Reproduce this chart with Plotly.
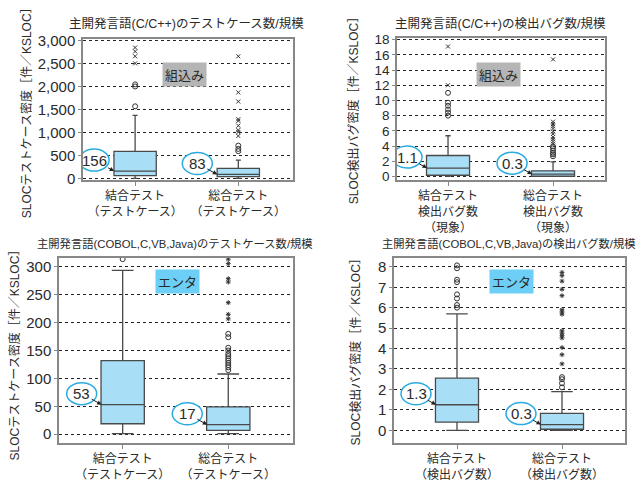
import plotly.graph_objects as go

W, H = 638, 483

# ---------------- data ----------------
cats_tc = ["結合テスト<br>（テストケース）", "総合テスト<br>（テストケース）"]
cats_bug_emb = ["結合テスト<br>検出バグ数<br>（現象）", "総合テスト<br>検出バグ数<br>（現象）"]
cats_bug_ent = ["結合テスト<br>（検出バグ数）", "総合テスト<br>（検出バグ数）"]

titles = ["主開発言語(C/C++)のテストケース数/規模",
          "主開発言語(C/C++)の検出バグ数/規模",
          "主開発言語(COBOL,C,VB,Java)のテストケース数/規模",
          "主開発言語(COBOL,C,VB,Java)の検出バグ数/規模"]
ytitles = ["SLOCテストケース密度［件／KSLOC］", "SLOC検出バグ密度［件／KSLOC］",
           "SLOCテストケース密度［件／KSLOC］", "SLOC検出バグ密度［件／KSLOC］"]
tags = ["組込み", "組込み", "エンタ", "エンタ"]

# panel 1: embedded, test cases
p1_q1 = [56, 35]
p1_med = [156, 83]
p1_q3 = [584, 217]
p1_lo = [0, 0]
p1_hi = [1371, 394]
p1_circ = [[1568, 2000, 2046], [590, 640, 711]]
p1_ext = [[2504, 2658, 2764, 2848], [922, 1006, 1050, 1146, 1250, 1287, 1673, 1871, 2658]]
p1_lab = ["156", "83"]

# panel 2: embedded, bugs
p2_q1 = [0.15, 0.02]
p2_med = [1.1, 0.3]
p2_q3 = [2.75, 0.73]
p2_lo = [0, 0]
p2_hi = [5.35, 1.92]
p2_circ = [[8.0, 8.4, 8.8, 9.3, 9.7, 11.0], [2.65, 2.9, 3.1, 3.4, 3.7, 3.95]]
p2_ext = [[12.0, 17.1], [4.3, 4.6, 4.9, 5.2, 5.6, 5.9, 6.3, 6.6, 6.9, 7.2, 15.4]]
p2_lab = ["1.1", "0.3"]

# panel 3: enterprise, test cases
p3_q1 = [18.7, 7]
p3_med = [53, 17]
p3_q3 = [132, 49]
p3_lo = [1, 1]
p3_hi = [294, 108]
p3_circ = [[314], [115, 120, 124, 128, 132, 136, 140, 144, 150, 155, 174, 180]]
p3_ext = [[], [207, 215, 236, 273, 279, 306, 314]]
p3_lab = ["53", "17"]

# panel 4: enterprise, bugs
p4_q1 = [0.4, 0.05]
p4_med = [1.25, 0.28]
p4_q3 = [2.55, 0.83]
p4_lo = [0, 0]
p4_hi = [5.7, 1.89]
p4_circ = [[6.0, 6.13, 6.45, 6.65, 7.25, 7.37, 7.93, 8.07], [2.1, 2.3, 2.5, 2.6]]
p4_ext = [[], [3.25, 3.7, 4.05, 4.52, 4.63, 4.75, 4.87, 5.68, 5.79, 5.9, 6.59, 6.9, 7.3, 7.57, 7.73]]
p4_lab = ["1.3", "0.3"]

# ---------------- layout geometry (pixels) ----------------
panels = [
    dict(cats=cats_tc, q1=p1_q1, med=p1_med, q3=p1_q3, lo=p1_lo, hi=p1_hi, circ=p1_circ, ext=p1_ext, lab=p1_lab,
         px=(83, 293), py=(33, 178), xr=[-0.505, 1.53], yr=[-42, 3032], dtick=500, fmt=",d", ww=0.12,
         ext_sym="x-thin-open", title_xy=(186, 17), tsize=12.5, ytitle_xy=(27, 106), tag_xy=(184.5, 69.5),
         tagcol="#b5b5b5", ticksize=15),
    dict(cats=cats_bug_emb, q1=p2_q1, med=p2_med, q3=p2_q3, lo=p2_lo, hi=p2_hi, circ=p2_circ, ext=p2_ext, lab=p2_lab,
         px=(397, 605), py=(32, 178), xr=[-0.486, 1.495], yr=[-0.5, 18.2], dtick=2, fmt="d", ww=0.12,
         ext_sym="x-thin-open", title_xy=(500, 17), tsize=12.5, ytitle_xy=(354, 104), tag_xy=(498, 69.5),
         tagcol="#b5b5b5", ticksize=13.5),
    dict(cats=cats_tc, q1=p3_q1, med=p3_med, q3=p3_q3, lo=p3_lo, hi=p3_hi, circ=p3_circ, ext=p3_ext, lab=p3_lab,
         px=(59, 293), py=(258, 448), xr=[-0.603, 1.613], yr=[-15.7, 316], dtick=50, fmt="d", ww=0.5,
         ext_sym="asterisk-open", title_xy=(175, 243), tsize=11.3, ytitle_xy=(15, 355), tag_xy=(177.5, 282),
         tagcol="#6dcff6", ticksize=15),
    dict(cats=cats_bug_ent, q1=p4_q1, med=p4_med, q3=p4_q3, lo=p4_lo, hi=p4_hi, circ=p4_circ, ext=p4_ext, lab=p4_lab,
         px=(394, 625), py=(258, 448), xr=[-0.6, 1.6], yr=[-0.62, 8.43], dtick=1, fmt="d", ww=0.5,
         ext_sym="asterisk-open", title_xy=(509, 243), tsize=11.3, ytitle_xy=(356, 352), tag_xy=(511.7, 282),
         tagcol="#6dcff6", ticksize=15),
]

FONT = "Liberation Sans, Arial, Noto Sans CJK JP, sans-serif"
JFONT = "Noto Sans CJK JP, sans-serif"
TXT = "#2a2a2a"

fig = go.Figure()
annotations = []
shapes = []
layout_axes = {}

for i, p in enumerate(panels):
    n = "" if i == 0 else str(i + 1)
    xref, yref = "x" + n, "y" + n
    cats = p["cats"]

    fig.add_trace(go.Box(
        x=cats, q1=p["q1"], median=p["med"], q3=p["q3"],
        lowerfence=p["lo"], upperfence=p["hi"],
        fillcolor="#a9def7", line=dict(color="#4a4a4a", width=1.3),
        whiskerwidth=p["ww"], width=0.41, boxpoints=False,
        xaxis=xref, yaxis=yref, showlegend=False, hoverinfo="skip"))

    cx, cy = [], []
    ex, ey = [], []
    for j in range(2):
        cx += [cats[j]] * len(p["circ"][j]); cy += p["circ"][j]
        ex += [cats[j]] * len(p["ext"][j]); ey += p["ext"][j]
    fig.add_trace(go.Scatter(x=cx, y=cy, mode="markers", xaxis=xref, yaxis=yref,
                             marker=dict(symbol="circle-open", size=5, color="#333", line=dict(width=1)),
                             showlegend=False, hoverinfo="skip"))
    if ex:
        fig.add_trace(go.Scatter(x=ex, y=ey, mode="markers", xaxis=xref, yaxis=yref,
                                 marker=dict(symbol=p["ext_sym"], size=4, color="#333", line=dict(width=1)),
                                 showlegend=False, hoverinfo="skip"))

    x0, x1 = p["px"]
    y0, y1 = p["py"]
    layout_axes["xaxis" + n] = dict(
        domain=[x0 / W, x1 / W], anchor=yref, type="category", range=p["xr"],
        showgrid=False, zeroline=False, showline=True, mirror=True, linecolor="#888", linewidth=1.5,
        ticks="outside", ticklen=4, tickcolor="#888",
        tickfont=dict(family=JFONT, size=12, color=TXT))
    layout_axes["yaxis" + n] = dict(
        domain=[1 - y1 / H, 1 - y0 / H], anchor=xref, range=p["yr"], dtick=p["dtick"], tick0=0,
        tickformat=p["fmt"], showgrid=True, gridcolor="#222", griddash="dot", gridwidth=1,
        zeroline=False, showline=True, mirror=True, linecolor="#888", linewidth=1.5,
        ticks="outside", ticklen=3, tickcolor="#888",
        tickfont=dict(family=FONT, size=p["ticksize"], color=TXT))

    # median labels with ellipse
    for j in range(2):
        shapes.append(dict(
            type="circle", xref=xref, yref=yref, xsizemode="pixel", ysizemode="pixel",
            xanchor=j, yanchor=p["med"][j],
            x0=-21 - 20 - 15, x1=-21 - 20 + 15, y0=0, y1=22,
            fillcolor="white", line=dict(color="#29abe2", width=1.5), layer="above"))
        annotations.append(dict(
            x=cats[j], y=p["med"][j], xref=xref, yref=yref, text=p["lab"][j],
            showarrow=True, ax=-20, ay=-11, xshift=-21, arrowhead=2, arrowsize=0.9,
            arrowwidth=1, arrowcolor="#222", standoff=0,
            font=dict(family=FONT, size=15, color=TXT)))

    # titles
    tx, ty = p["title_xy"]
    annotations.append(dict(x=tx / W, y=1 - ty / H, xref="paper", yref="paper", text=titles[i],
                            showarrow=False, xanchor="center", yanchor="middle",
                            font=dict(family=FONT, size=p["tsize"], color=TXT)))
    yx, yy = p["ytitle_xy"]
    annotations.append(dict(x=yx / W, y=1 - yy / H, xref="paper", yref="paper", text=ytitles[i],
                            showarrow=False, xanchor="center", yanchor="middle", textangle=-90,
                            font=dict(family=FONT, size=12, color=TXT)))
    gx, gy = p["tag_xy"]
    annotations.append(dict(x=gx / W, y=1 - gy / H, xref="paper", yref="paper", text=tags[i],
                            showarrow=False, xanchor="center", yanchor="middle",
                            bgcolor=p["tagcol"], borderpad=2,
                            font=dict(family=JFONT, size=13, color=TXT)))

fig.update_layout(
    width=W, height=H, autosize=False,
    margin=dict(l=0, r=0, t=0, b=0),
    paper_bgcolor="white", plot_bgcolor="white",
    annotations=annotations, shapes=shapes,
    **layout_axes)

fig.write_html("out.html")
